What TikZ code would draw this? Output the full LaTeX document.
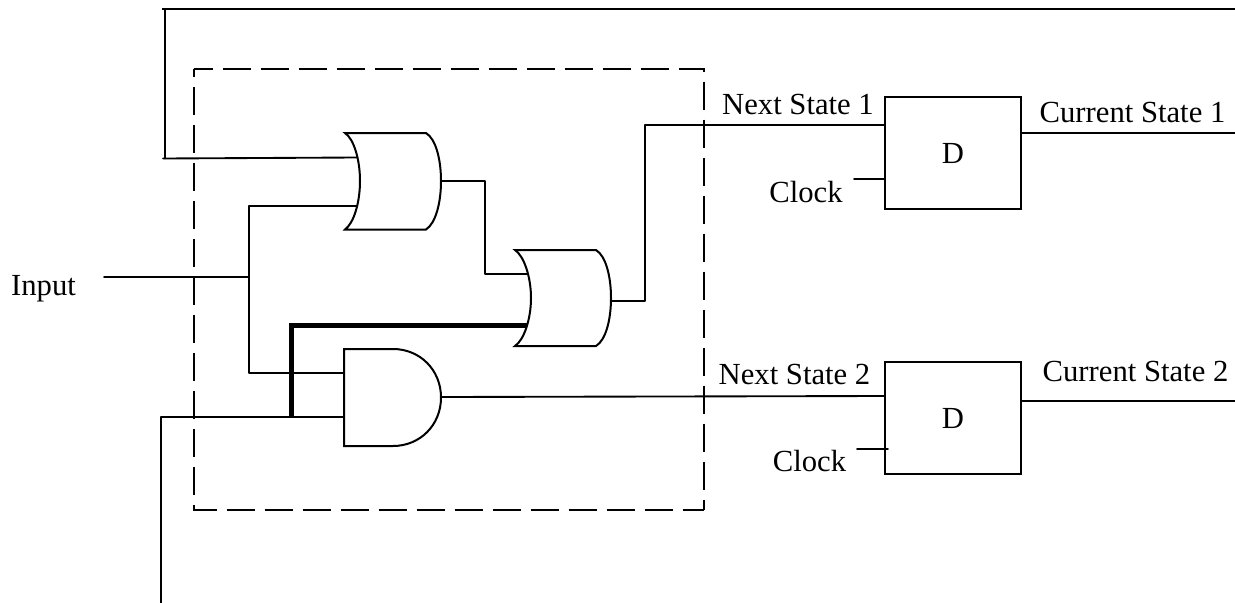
\documentclass[tikz,border=0pt]{standalone}
\usepackage{fontspec}
\setmainfont{Liberation Serif}
\tikzset{
  wire/.style={draw=black,line width=1.4pt,line cap=round,line join=round},
  topwire/.style={draw=black,line width=1.8pt},
  thickwire/.style={draw=black,line width=3.75pt,line join=miter},
  gate/.style={draw=black,fill=white,line width=1.5pt},
  dashtop/.style={draw=black,line width=1.5pt,dash pattern=on 21pt off 7.5pt,dash phase=6.75pt},
  dashleft/.style={draw=black,line width=1.5pt,dash pattern=on 21pt off 7.5pt,dash phase=15pt},
  ffbox/.style={draw=black,fill=white,line width=1.5pt,minimum width=102pt,minimum height=84pt,inner sep=0pt,outer sep=0pt,font=\fontsize{23}{26}\selectfont},
  lab/.style={inner sep=0pt,anchor=base,font=\fontsize{23}{26}\selectfont}
}
\begin{document}
\begin{tikzpicture}[x=0.75pt,y=-0.75pt]
\useasboundingbox (0,0) rectangle (1235,603);
% block outline
\coordinate (boxa) at (193.5,69);
\coordinate (boxr) at (704,69);
\coordinate (boxb) at (704,510);
\coordinate (boxl) at (193.5,510);
\draw[dashtop] (boxa) -- (boxr) -- (boxb);
\draw[dashleft] (boxa) -- (boxl) -- (boxb);
% gate anchor points
\coordinate (or1top) at (345,133);
\coordinate (or1in1) at (357,157.5);
\coordinate (or1in2) at (357,206);
\coordinate (or1out) at (441,181);
\coordinate (or2top) at (515,250);
\coordinate (or2in1) at (528,274);
\coordinate (or2in2) at (527,325.5);
\coordinate (or2out) at (612,301);
\coordinate (andin1) at (345,373);
\coordinate (andin2) at (344,417);
\coordinate (andout) at (441,397);
% flip-flops
\node[ffbox] (ff1) at (953,153.2) {\raisebox{-2.25pt}{D}};
\node[ffbox] (ff2) at (953,418.2) {\raisebox{-2.25pt}{D}};
% wire joints
\coordinate (tl) at (162,9);
\coordinate (tr) at (1235,9);
\coordinate (fb1) at (165,9);
\coordinate (fb1b) at (163,158.5);
\coordinate (fb1c) at (165,158.5);
\coordinate (j1) at (249,206);
\coordinate (j2) at (249,277);
\coordinate (j3) at (249,373);
\coordinate (inp) at (104,277);
\coordinate (m1) at (485,181);
\coordinate (m2) at (485,274);
\coordinate (n1) at (645,301);
\coordinate (n2) at (645,125);
\coordinate (fb2) at (161,417);
\coordinate (fb2b) at (161,603);
\coordinate (th) at (291,417);
\coordinate (th2) at (291,325.5);
% wires
\draw[topwire] (tl) -- (tr);
\draw[wire] (fb1) -- (fb1c);
\draw[wire] (fb1b) -- (or1in1);
\draw[wire] (j1) -- (or1in2);
\draw[wire] (j1) -- (j3) -- (andin1);
\draw[wire] (inp) -- (j2);
\draw[wire] (or1out) -- (m1) -- (m2) -- (or2in1);
\draw[wire] (or2out) -- (n1) -- (n2) -- (ff1.west |- n2);
\draw[wire] (andout) -- (ff2.west |- 0,396);
\draw[wire] (fb2b) -- (fb2) -- (andin2);
\draw[thickwire] (th) -- (th2) -- (or2in2);
% gates
\draw[gate] (or1top) -- (426,133) .. controls (436,139) and (441,160) .. (441,181)
   .. controls (441,202) and (436,223) .. (426,229.5) -- (345,229.5)
   .. controls (354,223) and (360,202) .. (360,181) .. controls (360,160) and (354,139) .. cycle;
\draw[gate] (or2top) -- (596,250) .. controls (606,256) and (611,277) .. (611,298)
   .. controls (611,319) and (606,340) .. (596,346) -- (515,346)
   .. controls (524,340) and (531,319) .. (531,298) .. controls (531,277) and (524,256) .. cycle;
\draw[gate] (344,349) -- (393,349) .. controls (420,349) and (441,370) .. (441,397.5)
   .. controls (441,425) and (420,446) .. (393,446) -- (344,446) -- cycle;
% outputs and clocks
\coordinate (c1) at (854,179);
\coordinate (c2) at (857,449);
\coordinate (c2b) at (888,449);
\coordinate (q1) at (1235,133);
\coordinate (q2) at (1235,401);
\draw[wire] (ff1.east |- q1) -- (q1);
\draw[wire] (ff2.east |- q2) -- (q2);
\draw[wire] (c1) -- (ff1.west |- c1);
\draw[wire] (c2) -- (c2b);
% labels
\node[lab] (tInput) at (43.5,295) {Input};
\node[lab] (tns1) at (798,114.5) {Next State 1};
\node[lab] (tns2) at (794.5,384.5) {Next State 2};
\node[lab] (tcs1) at (1132.5,122) {Current State 1};
\node[lab] (tcs2) at (1135.5,381) {Current State 2};
\node[lab] (tc1) at (806,202) {Clock};
\node[lab] (tc2) at (809.5,471.5) {Clock};
\end{tikzpicture}
\end{document}
